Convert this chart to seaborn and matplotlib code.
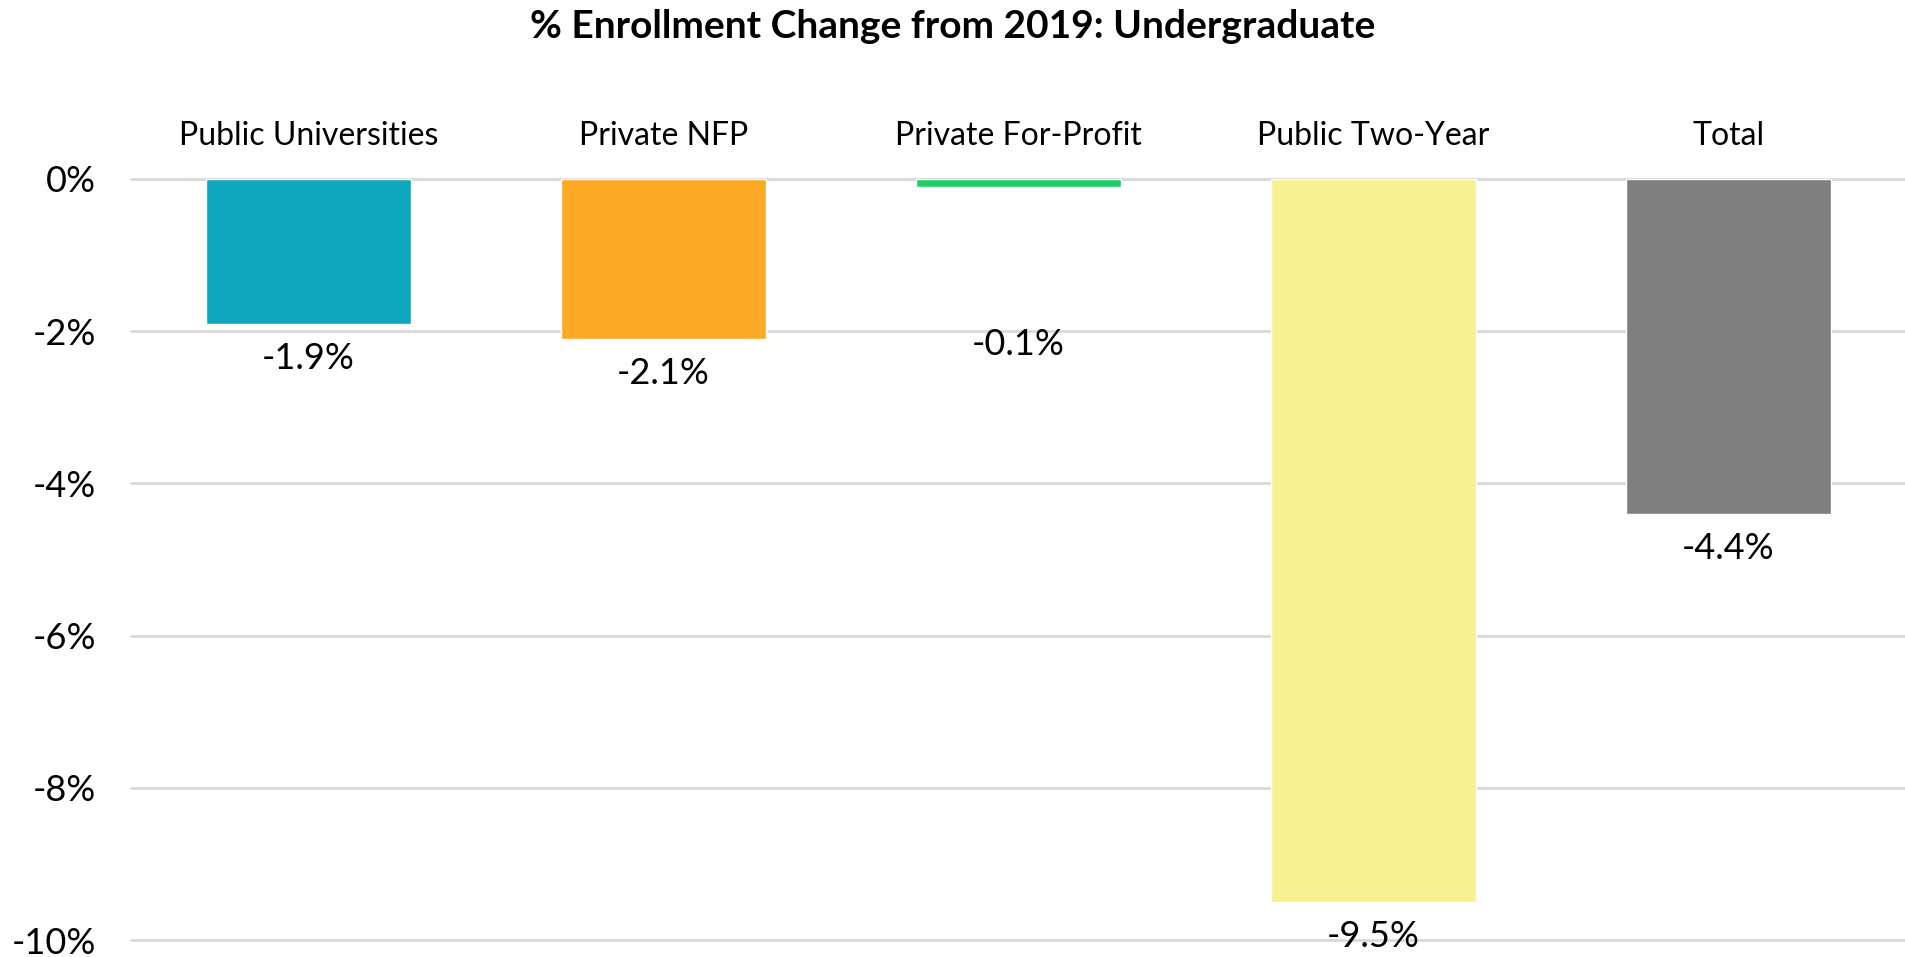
import matplotlib
matplotlib.use("Agg")
import matplotlib.pyplot as plt
import seaborn as sns
import pandas as pd

categories = ["Public Universities", "Private NFP", "Private For-Profit", "Public Two-Year", "Total"]
values = [-1.9, -2.1, -0.1, -9.5, -4.4]
value_labels = ["-1.9%", "-2.1%", "-0.1%", "-9.5%", "-4.4%"]
colors = ["#0EA7BF", "#FCA925", "#1ECF64", "#F7F192", "#7F7F7F"]
yticks = [0, -2, -4, -6, -8, -10]
ytick_labels = ["0%", "-2%", "-4%", "-6%", "-8%", "-10%"]
title = "% Enrollment Change from 2019: Undergraduate"

sns.set_theme(style="white")
plt.rcParams["font.family"] = ["Lato", "DejaVu Sans"]
plt.rcParams["text.color"] = "black"
plt.rcParams["xtick.color"] = "black"
plt.rcParams["ytick.color"] = "black"

df = pd.DataFrame({"cat": categories, "val": values})

fig = plt.figure(figsize=(19.06, 9.57), dpi=100)
ax = fig.add_axes([131 / 1906, 1 - 940 / 957, 1 - 131 / 1906, (940 - 179) / 957])

sns.barplot(data=df, x="cat", y="val", hue="cat", palette=colors, order=categories,
            hue_order=categories, width=0.575, legend=False, ax=ax, saturation=1)

ax.set_xlim(-0.5, len(categories) - 0.5)
ax.set_ylim(-10, 0)
ax.set_yticks(yticks)
ax.set_yticklabels(ytick_labels, fontsize=26)
ax.yaxis.grid(True, color="#D9D9D9", linewidth=2)
for gl in ax.get_ygridlines():
    gl.set_clip_on(False)
ax.set_axisbelow(True)
for s in ax.spines.values():
    s.set_visible(False)
ax.tick_params(axis="y", length=0, pad=25)
ax.xaxis.tick_top()
ax.tick_params(axis="x", length=0, pad=20, labelsize=23)
ax.set_xlabel("")
ax.set_ylabel("")

# label padding (points): the small Private For-Profit label sits lower, as in the source
paddings = {"Private For-Profit": 102}
for cont, cat, lab in zip(ax.containers, categories, value_labels):
    ax.bar_label(cont, labels=[lab], padding=paddings.get(cat, 13), fontsize=26, color="black")

fig.suptitle(title, fontsize=28, fontweight="bold", y=1 - 27 / 957, va="center", color="black")

fig.savefig("out.png", dpi=100)
